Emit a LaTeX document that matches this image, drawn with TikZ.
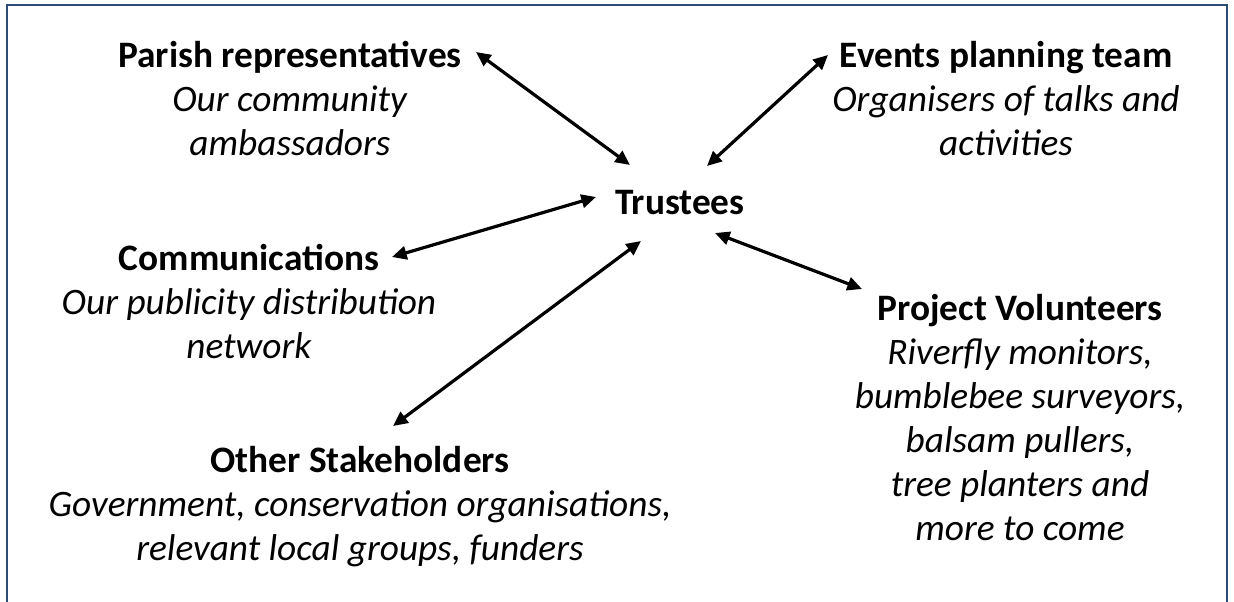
\documentclass[tikz,border=0pt]{standalone}
\usepackage{fontspec}
\setmainfont{Carlito}
\usetikzlibrary{arrows.meta}
\definecolor{frame}{RGB}{47,75,120}
\begin{document}
\begin{tikzpicture}[x=0.75pt,y=-0.75pt,
  blk/.style={align=center,inner sep=0pt,font=\fontsize{28}{33}\selectfont},
  link/.style={line width=2.4pt,{Triangle[length=11pt,width=10pt]}-{Triangle[length=11pt,width=10pt]}}]
\useasboundingbox (0,0) rectangle (1234,602);
\draw[frame,line width=2.2pt] (7,602) -- (7,5) -- (1227,5) -- (1227,602);
\node[blk] (tr) at (680,203) {\textbf{Trustees}};
\node[blk] (pa) at (290,99) {\textbf{Parish representatives}\\\textit{Our community}\\\textit{ambassadors}};
\node[blk] (ev) at (1006,99) {\textbf{Events planning team}\\\textit{Organisers of talks and}\\\textit{activities}};
\node[blk] (co) at (249,302) {\textbf{Communications}\\\textit{Our publicity distribution}\\\textit{network}};
\node[blk] (pv) at (1020,418) {\textbf{Project Volunteers}\\\textit{Riverfly monitors,}\\\textit{bumblebee surveyors,}\\\textit{balsam pullers,}\\\textit{tree planters and}\\\textit{more to come}};
\node[blk] (os) at (360,507) {\textbf{Other Stakeholders}\\\textit{Government, conservation organisations,}\\\textit{relevant local groups, funders}};
\coordinate (a1) at (476,52); \coordinate (b1) at (630,165);
\coordinate (a2) at (828,55); \coordinate (b2) at (707,166);
\coordinate (a3) at (392,257); \coordinate (b3) at (596,197);
\coordinate (a4) at (393,426); \coordinate (b4) at (641,241);
\coordinate (a5) at (862,289); \coordinate (b5) at (715,233);
\draw[link] (a1) -- (b1);
\draw[link] (a2) -- (b2);
\draw[link] (a3) -- (b3);
\draw[link] (a4) -- (b4);
\draw[link] (a5) -- (b5);
\end{tikzpicture}
\end{document}
